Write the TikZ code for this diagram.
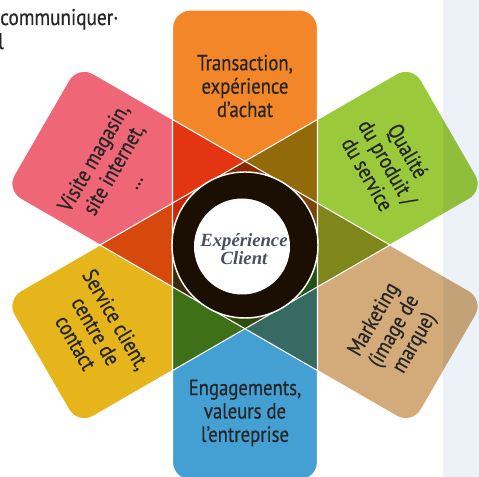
\documentclass[tikz,border=0pt]{standalone}
\usepackage{fontspec}
\newfontfamily\petalfont{PT Sans}[FakeStretch=0.85,FakeBold=0.6]
\newfontfamily\docfont{PT Sans}[FakeStretch=0.85,FakeBold=0.4]
\newfontfamily\centerfont{Liberation Serif}
\definecolor{cOrange}{HTML}{F4862A}
\definecolor{cPink}{HTML}{EF6677}
\definecolor{cGreen}{HTML}{9ACA3C}
\definecolor{cYellow}{HTML}{E6B51C}
\definecolor{cTan}{HTML}{D3AB7A}
\definecolor{cBlue}{HTML}{449FD3}
\definecolor{cText}{HTML}{262626}
\definecolor{cCenter}{HTML}{4B5060}
\definecolor{cRing}{HTML}{1B0E03}
\definecolor{cPanel}{HTML}{EDF2F9}
\newcommand\halfstrip[2]{%
  \begin{scope}[rotate=#1]
    \fill[#2, blend mode=multiply] (0,-72.5) -- (217,-72.5)
      arc[start angle=-90, end angle=0, radius=18] -- (235,54.5)
      arc[start angle=0, end angle=90, radius=18] -- (0,72.5) -- cycle;
  \end{scope}}
\newcommand\stripedge[1]{%
  \begin{scope}[rotate=#1]
    \draw[white, line width=0.8pt, rounded corners=13.5pt] (-235,-72.5) rectangle (235,72.5);
  \end{scope}}
\begin{document}
\begin{tikzpicture}[x=0.75pt,y=0.75pt,
  petaltext/.style={font=\petalfont\fontsize{16.5}{17.5}\selectfont, text=cText, align=center, inner sep=0pt},
  doctext/.style={font=\docfont\fontsize{17}{18}\selectfont, text=cText, anchor=base west, inner sep=0pt}]
\fill[white] (-245,-232) rectangle (234,245);
\useasboundingbox (-245,-232) rectangle (234,245);
\halfstrip{90}{cOrange}
\halfstrip{-90}{cBlue}
\halfstrip{150}{cPink}
\halfstrip{-30}{cTan}
\halfstrip{30}{cGreen}
\halfstrip{210}{cYellow}
\stripedge{90}
\stripedge{30}
\stripedge{150}
% center circle
\fill[cRing] (0,0) circle[radius=73];
\draw[white, line width=1.1pt] (0,0) circle[radius=73];
\fill[white] (-3,-1.5) circle[radius=48];
% texts
\node[petaltext] (tOrange) at (0,159) {Transaction,\\expérience\\d’achat};
\node[petaltext] (tBlue) at (0,-168) {Engagements,\\valeurs de\\l’entreprise};
\node[petaltext, rotate=60] (tPink) at (150:152) {Visite magasin,\\site internet,\\…};
\node[petaltext, rotate=-60] (tGreen) at (30:165) {Qualité\\du produit /\\du service};
\node[petaltext, rotate=-60] (tYellow) at (210:172) {Service client,\\centre de\\contact};
\node[petaltext, rotate=60] (tTan) at (-30:173) {Marketing\\(image de\\marque)};
\node[font=\centerfont\fontsize{14}{12}\selectfont\bfseries\itshape, text=cCenter, align=center, inner sep=0pt] (center) at (-1,-4) {Expérience\\Client};
\node[doctext] (doc1) at (-245,220) {communiquer·};
\node[doctext] (doc2) at (-247,196) {l};
% side panel
\fill[cPanel, blend mode=multiply] (198,-232) rectangle (234,245);
\end{tikzpicture}
\end{document}
